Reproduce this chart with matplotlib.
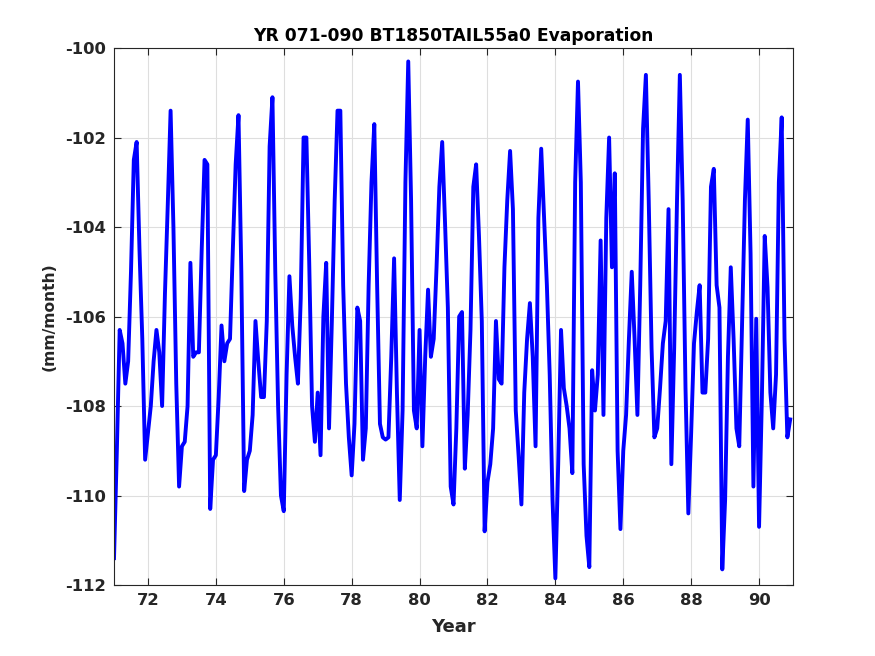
import numpy as np
import matplotlib
matplotlib.use("Agg")
import matplotlib.pyplot as plt

# monthly evaporation (mm/month), one list per model year
y71 = [-111.4, -109.0, -106.3, -106.6, -107.5, -107.0, -105.0, -102.5, -102.1, -104.5, -106.5, -109.2]
y72 = [-108.6, -108.0, -107.0, -106.3, -106.8, -108.0, -105.5, -103.5, -101.4, -104.0, -107.5, -109.8]
y73 = [-108.9, -108.8, -108.0, -104.8, -106.9, -106.8, -106.8, -104.5, -102.5, -102.6, -110.3, -109.2]
y74 = [-109.1, -107.8, -106.2, -107.0, -106.6, -106.5, -104.5, -102.6, -101.5, -105.0, -109.9, -109.2]
y75 = [-109.0, -108.2, -106.1, -107.0, -107.8, -107.8, -106.1, -102.2, -101.1, -105.0, -108.0, -110.0]
y76 = [-110.35, -107.3, -105.1, -106.2, -106.9, -107.5, -105.6, -102.0, -102.0, -104.8, -108.0, -108.8]
y77 = [-107.7, -109.1, -106.0, -104.8, -108.5, -106.1, -103.4, -101.4, -101.4, -105.3, -107.5, -108.7]
y78 = [-109.55, -108.4, -105.8, -106.1, -109.2, -108.5, -105.3, -103.0, -101.7, -105.3, -108.4, -108.7]
y79 = [-108.75, -108.7, -106.9, -104.7, -107.7, -110.1, -108.1, -103.0, -100.3, -103.4, -108.1, -108.5]
y80 = [-106.3, -108.9, -106.9, -105.4, -106.9, -106.5, -104.9, -103.1, -102.1, -103.9, -105.8, -109.8]
y81 = [-110.2, -108.5, -106.0, -105.9, -109.4, -108.2, -106.3, -103.1, -102.6, -104.2, -106.1, -110.8]
y82 = [-109.7, -109.3, -108.5, -106.1, -107.4, -107.5, -104.9, -103.4, -102.3, -103.6, -108.1, -109.1]
y83 = [-110.2, -107.7, -106.5, -105.7, -106.9, -108.9, -103.8, -102.25, -103.8, -105.3, -107.3, -110.1]
y84 = [-111.85, -109.3, -106.3, -107.6, -108.0, -108.5, -109.5, -103.0, -100.75, -103.0, -109.3, -110.9]
y85 = [-111.6, -107.2, -108.1, -107.3, -104.3, -108.2, -103.8, -102.0, -104.9, -102.8, -109.0, -110.75]
y86 = [-109.0, -108.2, -106.5, -105.0, -106.5, -108.2, -105.3, -101.8, -100.6, -103.4, -106.7, -108.7]
y87 = [-108.5, -107.6, -106.6, -106.1, -103.6, -109.3, -106.7, -103.4, -100.6, -103.4, -107.6, -110.4]
y88 = [-108.6, -106.6, -105.9, -105.3, -107.7, -107.7, -106.5, -103.1, -102.7, -105.3, -105.8, -111.65]
y89 = [-110.1, -106.9, -104.9, -106.5, -108.5, -108.9, -106.1, -103.4, -101.6, -104.6, -109.8, -106.05]
y90 = [-110.7, -107.8, -104.2, -105.35, -107.7, -108.5, -107.3, -103.0, -101.55, -106.5, -108.7, -108.3]

evap = np.concatenate([y71, y72, y73, y74, y75, y76, y77, y78, y79, y80,
                       y81, y82, y83, y84, y85, y86, y87, y88, y89, y90])
years = 71 + np.arange(len(evap)) / 12.0

plt.rcParams['font.family'] = 'DejaVu Sans'
plt.rcParams['font.weight'] = 'bold'
plt.rcParams['axes.unicode_minus'] = False

fig = plt.figure(figsize=(8.75, 6.56), dpi=100)
ax = fig.add_axes([0.1303, 0.1082, 0.776, 0.8186])

ax.plot(years, evap, color='#0000ff', lw=2.8)

ax.set_xlim(71, 91)
ax.set_ylim(-112, -100)
ax.set_xticks(np.arange(72, 91, 2))
ax.set_yticks(np.arange(-112, -99, 2))
ax.grid(True, color='#dedede', lw=0.8)
ax.set_axisbelow(True)
ax.tick_params(direction='in', top=True, right=True, length=5, width=0.8,
               labelsize=11.8, colors='#262626', pad=6)
for lab in ax.get_xticklabels() + ax.get_yticklabels():
    lab.set_fontweight('bold')
for sp in ax.spines.values():
    sp.set_color('#262626')
    sp.set_linewidth(0.8)

ax.set_xlabel('Year', fontsize=13, fontweight='bold', color='#262626', labelpad=7)
ax.set_ylabel('(mm/month)', fontsize=11.2, fontweight='bold', color='#262626')
ax.yaxis.set_label_coords(-0.085, 0.5)
ax.set_title('YR 071-090 BT1850TAIL55a0 Evaporation', fontsize=12.3,
             fontweight='bold', color='black', pad=5)

fig.savefig('out.png', dpi=100)
